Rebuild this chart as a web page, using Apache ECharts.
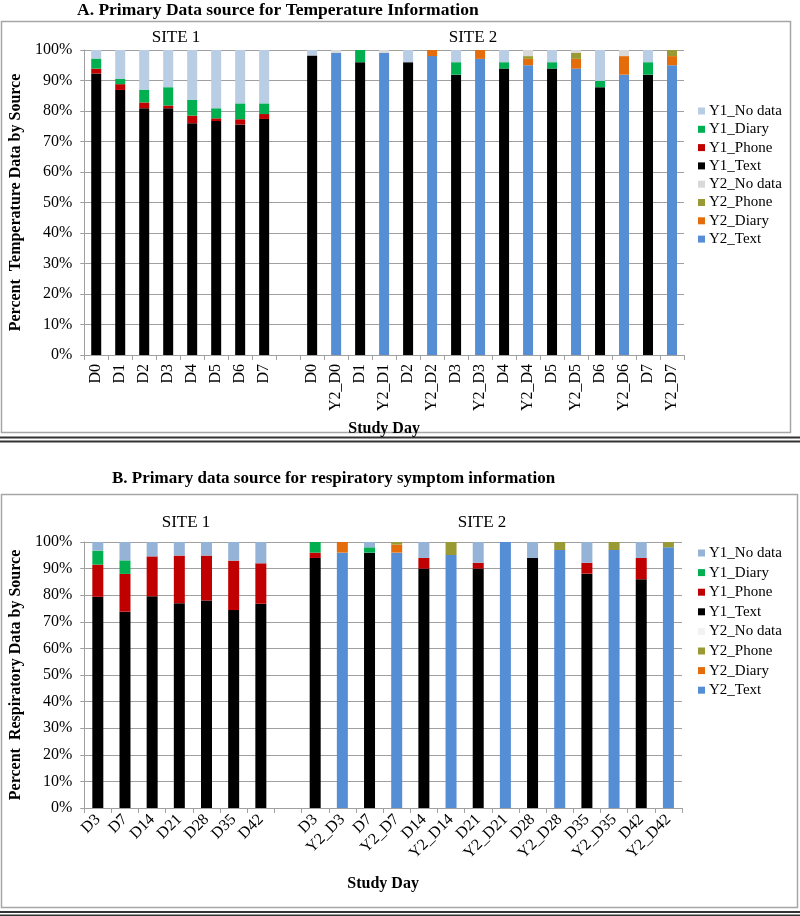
<!DOCTYPE html>
<html>
<head>
<meta charset="utf-8">
<script src="https://cdn.jsdelivr.net/npm/echarts@6/dist/echarts.min.js"></script>
<style>
html,body{margin:0;padding:0;background:#fff;}
#c{width:800px;height:916px;}
</style>
</head>
<body>
<div id="c"></div>
<script>
// ---------- DATA ----------
// Chart A: temperature (percent of records by source)
const daysA = ['D0','D1','D2','D3','D4','D5','D6','D7'];
// Site 1, year 1
const aS1Text   = [92.3, 86.9, 80.9, 80.9, 76.0, 76.7, 75.6, 77.4];
const aS1Phone  = [1.6, 1.9, 1.9, 0.9, 2.5, 0.9, 1.7, 1.6];
const aS1Diary  = [3.3, 1.7, 4.2, 6.0, 5.1, 3.3, 5.2, 3.5];
const aS1NoData = [2.8, 9.5, 13.0, 12.2, 16.4, 19.1, 17.5, 17.5];
// Site 2, year 1
const aS2Y1Text   = [98.2, 96.0, 96.0, 91.9, 93.9, 93.9, 87.8, 91.9];
const aS2Y1Phone  = [0, 0, 0, 0, 0, 0, 0, 0];
const aS2Y1Diary  = [0, 4.0, 0, 4.1, 2.1, 2.1, 2.1, 4.1];
const aS2Y1NoData = [1.8, 0, 4.0, 4.0, 4.0, 4.0, 10.1, 4.0];
// Site 2, year 2
const aS2Y2Text   = [99.1, 99.1, 98.0, 97.1, 95.0, 93.9, 91.9, 95.0];
const aS2Y2Diary  = [0, 0, 2.0, 2.9, 2.1, 3.2, 6.1, 3.0];
const aS2Y2Phone  = [0, 0, 0, 0, 0.9, 2.0, 0, 2.0];
const aS2Y2NoData = [0.9, 0.9, 0, 0, 2.0, 0.9, 2.0, 0];

// Chart B: respiratory symptoms
const daysB = ['D3','D7','D14','D21','D28','D35','D42'];
const bS1Text   = [79.4, 73.8, 79.6, 77.0, 78.0, 74.4, 76.8];
const bS1Phone  = [12.1, 14.2, 15.0, 17.9, 16.9, 18.6, 15.2];
const bS1Diary  = [5.25, 5.1, 0, 0, 0, 0, 0];
const bS1NoData = [3.25, 6.9, 5.4, 5.1, 5.1, 7.0, 8.0];
const bS2Y1Text   = [94.0, 96.0, 90.0, 90.0, 94.0, 88.1, 86.0];
const bS2Y1Phone  = [2.0, 0, 4.0, 2.2, 0, 4.1, 8.0];
const bS2Y1Diary  = [4.0, 2.0, 0, 0, 0, 0, 0];
const bS2Y1NoData = [0, 2.0, 6.0, 7.8, 6.0, 7.8, 6.0];
const bS2Y2Text   = [96.0, 96.0, 95.1, 100.0, 97.0, 97.0, 98.0];
const bS2Y2Diary  = [4.0, 3.0, 0, 0, 0, 0, 0];
const bS2Y2Phone  = [0, 1.0, 4.9, 0, 3.0, 3.0, 2.0];
const bS2Y2NoData = [0, 0, 0, 0, 0, 0, 0];

const legendNames = ['Y1_No data','Y1_Diary','Y1_Phone','Y1_Text','Y2_No data','Y2_Phone','Y2_Diary','Y2_Text'];

// ---------- BUILD ----------
const serif = "'Liberation Serif','Times New Roman',serif";
function cats(days){ return days.concat([''], days.flatMap(d => [d, 'Y2_' + d])); }
function y1Row(s1, s2){ return s1.concat([null], s2.flatMap(v => [v, null])); }
function y2Row(n1, s2){ return new Array(n1 + 1).fill(null).concat(s2.flatMap(v => [null, v])); }

const colA = {'Y1_Text':'#000000','Y1_Phone':'#c00000','Y1_Diary':'#00b050','Y1_No data':'#b9cde5',
              'Y2_Text':'#558ed5','Y2_Diary':'#e46c0a','Y2_Phone':'#9a9a34','Y2_No data':'#d9d9d9'};
const colB = Object.assign({}, colA, {'Y1_No data':'#95b3d7','Y2_No data':'#f2f2f2'});

function makeSeries(idx, stack, n1, s1, s2y1, s2y2, cols, bw){
  const list = [
    ['Y1_Text',    y1Row(s1[0], s2y1[0])],
    ['Y1_Phone',   y1Row(s1[1], s2y1[1])],
    ['Y1_Diary',   y1Row(s1[2], s2y1[2])],
    ['Y1_No data', y1Row(s1[3], s2y1[3])],
    ['Y2_Text',    y2Row(n1, s2y2[0])],
    ['Y2_Diary',   y2Row(n1, s2y2[1])],
    ['Y2_Phone',   y2Row(n1, s2y2[2])],
    ['Y2_No data', y2Row(n1, s2y2[3])]
  ];
  return list.map(([name, data]) => ({
    name, type:'bar', stack, xAxisIndex:idx, yAxisIndex:idx, barWidth:bw,
    itemStyle:{color:cols[name]}, data: data.map(v => v === 0 ? null : v)
  }));
}

const seriesA = makeSeries(0, 'A', daysA.length,
  [aS1Text, aS1Phone, aS1Diary, aS1NoData],
  [aS2Y1Text, aS2Y1Phone, aS2Y1Diary, aS2Y1NoData],
  [aS2Y2Text, aS2Y2Diary, aS2Y2Phone, aS2Y2NoData], colA, 10);
const seriesB = makeSeries(1, 'B', daysB.length,
  [bS1Text, bS1Phone, bS1Diary, bS1NoData],
  [bS2Y1Text, bS2Y1Phone, bS2Y1Diary, bS2Y1NoData],
  [bS2Y2Text, bS2Y2Diary, bS2Y2Phone, bS2Y2NoData], colB, 11);

const gridColor = '#a0a0a0';
function xAxis(idx, days, rotate, gap){
  return {
    type:'category', gridIndex:idx, data:cats(days),
    axisLine:{lineStyle:{color:gridColor}},
    axisTick:{show:true, interval:0, length:5, lineStyle:{color:gridColor}},
    axisLabel:{interval:0, rotate, fontSize:16, color:'#000', fontFamily:serif, margin:9},
    name:'Study Day', nameLocation:'middle', nameGap:gap,
    nameTextStyle:{fontSize:16, fontWeight:'bold', color:'#000', fontFamily:serif}
  };
}
function yAxis(idx, name, gap){
  return {
    type:'value', gridIndex:idx, min:0, max:100, interval:10,
    axisLine:{show:true, lineStyle:{color:gridColor}},
    axisTick:{show:true, length:4, lineStyle:{color:gridColor}},
    splitLine:{show:true, lineStyle:{color:gridColor}},
    axisLabel:{formatter:'{value}%', fontSize:16, color:'#000', fontFamily:serif, margin:12},
    name, nameLocation:'middle', nameGap:gap,
    nameTextStyle:{fontSize:16, fontWeight:'bold', color:'#000', fontFamily:serif}
  };
}
function legend(top, gap, cols){
  return {
    orient:'vertical', left:693, top, itemWidth:7, itemHeight:7, itemGap:gap, itemStyle:{borderWidth:0},
    icon:'rect', selectedMode:false,
    textStyle:{fontSize:15, color:'#000', fontFamily:serif, lineHeight:16, padding:[0,0,0,-1]},
    data: legendNames.map(n => ({name:n, itemStyle:{color:cols[n]}}))
  };
}

const chart = echarts.init(document.getElementById('c'), null, {renderer:'canvas'});
chart.setOption({
  animation:false,
  textStyle:{fontFamily:serif},
  grid:[
    {left:74, right:116, top:50, height:305},
    {left:80, right:118, top:542, height:266}
  ],
  xAxis:[ xAxis(0, daysA, 90, 66), xAxis(1, daysB, 45, 68) ],
  yAxis:[ yAxis(0, 'Percent  Temperature Data by Source', 50), yAxis(1, 'Percent  Respiratory Data by Source', 56) ],
  legend:[ legend(98, 2.3, colA), legend(540, 3.6, colB) ],
  series: seriesA.concat(seriesB),
  graphic:[
    {type:'rect', shape:{x:1.5, y:21.5, width:789, height:411}, style:{fill:null, stroke:'#a6a6a6', lineWidth:1.5}, silent:true},
    {type:'line', shape:{x1:0, y1:437.5, x2:800, y2:437.5}, style:{stroke:'#333', lineWidth:2}, silent:true},
    {type:'line', shape:{x1:0, y1:441.5, x2:800, y2:441.5}, style:{stroke:'#333', lineWidth:2}, silent:true},
    {type:'rect', shape:{x:1.5, y:494.5, width:796, height:413}, style:{fill:null, stroke:'#a6a6a6', lineWidth:1.5}, silent:true},
    {type:'line', shape:{x1:0, y1:912, x2:800, y2:912}, style:{stroke:'#333', lineWidth:2}, silent:true},
    {type:'line', shape:{x1:0, y1:915.5, x2:800, y2:915.5}, style:{stroke:'#333', lineWidth:2}, silent:true},
    {type:'text', x:77, y:10, style:{text:'A. Primary Data source for Temperature Information', font:"bold 17.5px 'Liberation Serif'", fill:'#000', align:'left', verticalAlign:'middle'}},
    {type:'text', x:112, y:479, style:{text:'B. Primary data source for respiratory symptom information', font:"bold 17px 'Liberation Serif'", fill:'#000', align:'left', verticalAlign:'middle'}},
    {type:'text', x:176, y:38, style:{text:'SITE 1', font:"17px 'Liberation Serif'", fill:'#000', align:'center', verticalAlign:'middle'}},
    {type:'text', x:473, y:38, style:{text:'SITE 2', font:"17px 'Liberation Serif'", fill:'#000', align:'center', verticalAlign:'middle'}},
    {type:'text', x:186, y:523, style:{text:'SITE 1', font:"17px 'Liberation Serif'", fill:'#000', align:'center', verticalAlign:'middle'}},
    {type:'text', x:482, y:523, style:{text:'SITE 2', font:"17px 'Liberation Serif'", fill:'#000', align:'center', verticalAlign:'middle'}}
  ]
});
</script>
</body>
</html>
